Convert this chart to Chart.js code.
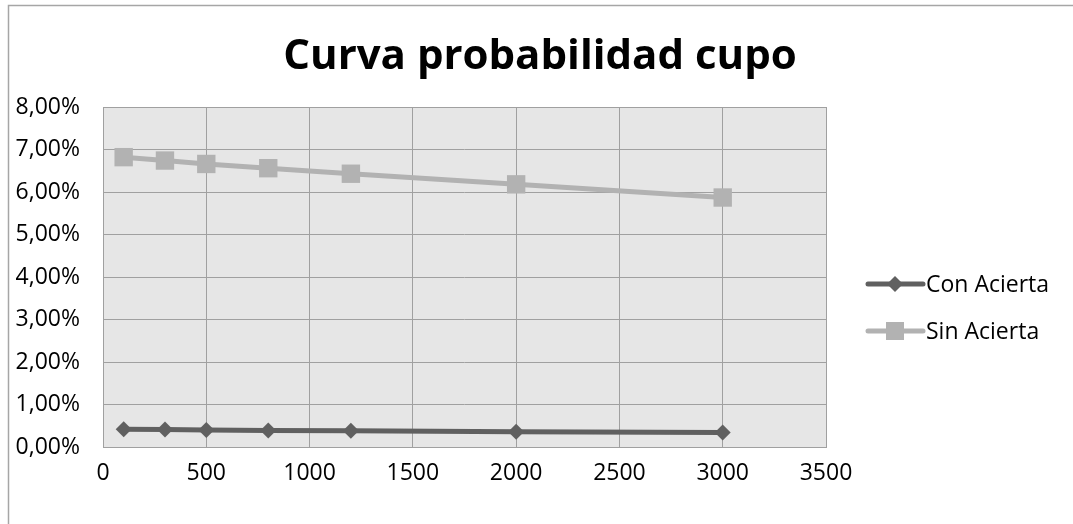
<!DOCTYPE html>
<html>
<head>
<meta charset="utf-8">
<script src="https://cdn.jsdelivr.net/npm/chart.js@4"></script>
<style>
  html, body { margin: 0; padding: 0; background: #fff; }
  #wrap { width: 1073px; height: 524px; position: relative; }
</style>
</head>
<body>
<div id="wrap"><canvas id="myChart" width="1073" height="524"></canvas></div>
<script>
// data
var cantidades = [100, 300, 500, 800, 1200, 2000, 3000];
var conAcierta = [0.42, 0.41, 0.40, 0.39, 0.38, 0.36, 0.34];
var sinAcierta = [6.82, 6.74, 6.66, 6.56, 6.43, 6.18, 5.87];
var xTicks = [0, 500, 1000, 1500, 2000, 2500, 3000, 3500];
var yTicks = [0, 1, 2, 3, 4, 5, 6, 7, 8];

var FONT = "'Open Sans', sans-serif";
var gridColor = '#a0a0a0';

function toPoints(xs, ys) {
    return xs.map(function(x, i){ return { x: x, y: ys[i] }; });
}

// plot background, outer border, title and legend drawn Excel style
var excelLook = {
    id: 'excelLook',
    beforeDraw: function(chart) {
        var c = chart.ctx, a = chart.chartArea;
        c.save();
        c.fillStyle = '#fff';
        c.fillRect(0, 0, chart.width, chart.height);
        c.strokeStyle = '#a6a6a6';
        c.lineWidth = 1.5;
        c.beginPath();
        c.moveTo(8.5, chart.height);
        c.lineTo(8.5, 5.5);
        c.lineTo(chart.width, 5.5);
        c.stroke();
        c.fillStyle = '#e6e6e6';
        c.fillRect(a.left, a.top, a.right - a.left, a.bottom - a.top);
        c.fillStyle = '#000';
        c.font = "bold 42px " + FONT;
        c.textAlign = 'center';
        c.textBaseline = 'middle';
        c.fillText('Curva probabilidad cupo', 540, 57);
        c.restore();
    },
    afterDraw: function(chart) {
        var c = chart.ctx, a = chart.chartArea;
        c.save();
        c.strokeStyle = gridColor;
        c.lineWidth = 1;
        c.strokeRect(a.left + 0.5, a.top + 0.5, a.right - a.left, a.bottom - a.top);
        var items = [
            { label: 'Con Acierta', color: '#606060', y: 284, marker: 'diamond' },
            { label: 'Sin Acierta', color: '#b2b2b2', y: 331, marker: 'square' }
        ];
        items.forEach(function(it){
            c.strokeStyle = it.color;
            c.fillStyle = it.color;
            c.lineWidth = 5;
            c.lineCap = 'round';
            c.beginPath();
            c.moveTo(868, it.y);
            c.lineTo(923, it.y);
            c.stroke();
            c.beginPath();
            if (it.marker == 'diamond') {
                c.moveTo(895, it.y - 8);
                c.lineTo(903, it.y);
                c.lineTo(895, it.y + 8);
                c.lineTo(887, it.y);
                c.closePath();
                c.fill();
            } else {
                c.fillRect(886, it.y - 9, 18, 18);
            }
            c.fillStyle = '#000';
            c.font = "23px " + FONT;
            c.textAlign = 'left';
            c.textBaseline = 'middle';
            c.fillText(it.label, 926, it.y + 1);
        });
        c.restore();
    }
};

var ctx = document.getElementById('myChart').getContext('2d');
var chart = new Chart(ctx, {
    type: 'scatter',
    data: {
        datasets: [{
            label: 'Con Acierta',
            data: toPoints(cantidades, conAcierta),
            showLine: true,
            borderColor: '#606060',
            backgroundColor: '#606060',
            borderWidth: 5,
            pointStyle: 'rectRot',
            pointRadius: 8,
            pointBorderWidth: 0
        }, {
            label: 'Sin Acierta',
            data: toPoints(cantidades, sinAcierta),
            showLine: true,
            borderColor: '#b2b2b2',
            backgroundColor: '#b2b2b2',
            borderWidth: 5,
            pointStyle: 'rect',
            pointRadius: 13,
            pointBorderWidth: 0
        }]
    },
    options: {
        responsive: false,
        animation: false,
        layout: { padding: { top: 107, right: 247, left: 0, bottom: 0 } },
        plugins: {
            legend: { display: false },
            title: { display: false },
            tooltip: { enabled: false }
        },
        scales: {
            x: {
                type: 'linear',
                min: 0,
                max: 3500,
                afterBuildTicks: function(axis){
                    axis.ticks = xTicks.map(function(v){ return { value: v }; });
                },
                afterFit: function(axis){ axis.height = 77; },
                grid: { color: gridColor, drawTicks: false },
                border: { display: false },
                ticks: {
                    color: '#000',
                    padding: 13,
                    maxRotation: 0,
                    font: { family: FONT, size: 23 },
                    callback: function(v){ return String(v); }
                }
            },
            y: {
                min: 0,
                max: 8,
                afterBuildTicks: function(axis){
                    axis.ticks = yTicks.map(function(v){ return { value: v }; });
                },
                afterFit: function(axis){ axis.width = 103; },
                grid: { color: gridColor, drawTicks: false },
                border: { display: false },
                ticks: {
                    color: '#000',
                    padding: 23,
                    font: { family: FONT, size: 23 },
                    callback: function(v){ return v.toFixed(2).replace('.', ',') + '%'; }
                }
            }
        }
    },
    plugins: [excelLook]
});
</script>
</body>
</html>
